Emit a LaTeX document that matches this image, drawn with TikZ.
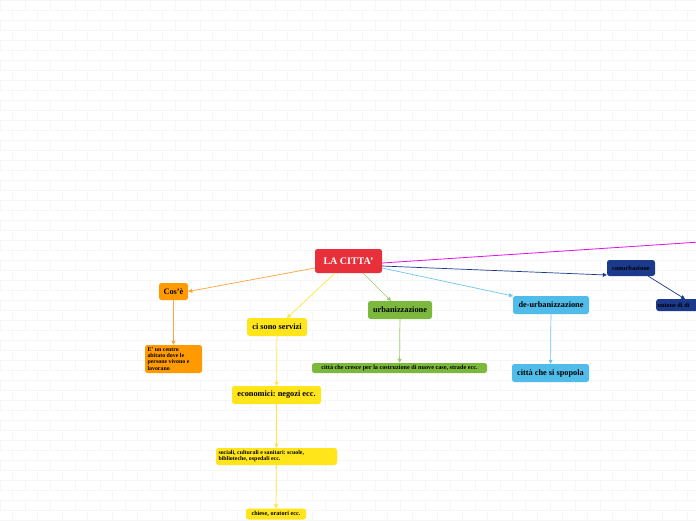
\documentclass[tikz,border=0pt]{standalone}
\usepackage{fontspec}
\setmainfont{Liberation Serif}
\usetikzlibrary{arrows.meta}
\frenchspacing
\definecolor{cred}{HTML}{E8303A}
\definecolor{corange}{HTML}{FF9A00}
\definecolor{corangeL}{HTML}{FFA43A}
\definecolor{cyellow}{HTML}{FFE51A}
\definecolor{cyellowL}{HTML}{FFE640}
\definecolor{cgreen}{HTML}{7CB83C}
\definecolor{cgreenL}{HTML}{9CCC6A}
\definecolor{cblue}{HTML}{4FBCEA}
\definecolor{cblueL}{HTML}{6CC6EE}
\definecolor{cnavy}{HTML}{1B3A8C}
\definecolor{cmag}{HTML}{E010E8}
\definecolor{brick}{HTML}{F6F6F6}
\tikzset{
  box/.style={rounded corners=2.5pt, inner sep=1pt, align=center, font=\bfseries\fontsize{8.3}{9}\selectfont, text=black},
  small/.style={font=\bfseries\fontsize{6.2}{6.4}\selectfont},
  conn/.style={line width=0.7pt, -{Triangle[length=4pt,width=4pt]}},
}
\begin{document}
\begin{tikzpicture}[x=1pt,y=-1pt]
\useasboundingbox (0,0) rectangle (696,520);
\fill[white] (0,0) rectangle (696,520);
% faint brick background
\foreach \r in {0,...,52} {
  \draw[brick, line width=0.6pt] (0,\r*10) -- (696,\r*10);
  \pgfmathsetmacro{\off}{mod(\r,2)*12.5}
  \foreach \c in {0,...,28} {
    \draw[brick, line width=0.6pt] (\c*25+\off,\r*10) -- (\c*25+\off,\r*10+10);
  }
}
% nodes
\node[box, fill=cred, text=white, minimum width=67pt, minimum height=24pt, font=\bfseries\fontsize{10}{11}\selectfont] (city) at (348.5,261) {LA CITTA'};
\node[box, fill=corange, minimum width=29pt, minimum height=17pt] (cos) at (173.5,291.5) {Cos'è};
\node[box, small, fill=corange, minimum width=57pt, minimum height=28pt, text width=52pt, align={flush left}, font=\bfseries\fontsize{5.9}{6.1}\selectfont] (eun) at (173.5,359) {E' un centro\\abitato dove le\\persone vivono e\\lavorano};
\node[box, fill=cyellow, minimum width=60pt, minimum height=18pt] (serv) at (277,327) {ci sono servizi};
\node[box, fill=cyellow, minimum width=89pt, minimum height=18pt] (econ) at (276.5,395) {economici: negozi ecc.};
\node[box, small, fill=cyellow, minimum width=121pt, minimum height=17pt, text width=116pt, align={flush left}, font=\bfseries\fontsize{5.9}{6.1}\selectfont] (soc) at (276.5,456.5) {sociali, culturali e sanitari: scuole,\\biblioteche, ospedali ecc.};
\node[box, small, fill=cyellow, minimum width=60pt, minimum height=11pt] (chiese) at (276,514) {chiese, oratori ecc.};
\node[box, fill=cgreen, minimum width=64pt, minimum height=18pt] (urb) at (400,310) {urbanizzazione};
\node[box, small, fill=cgreen, minimum width=175pt, minimum height=10pt] (cresce) at (399.5,368) {città che cresce per la costruzione di nuove case, strade ecc.};
\node[box, fill=cblue, minimum width=76pt, minimum height=18pt] (deurb) at (551,305) {de-urbanizzazione};
\node[box, fill=cblue, minimum width=77pt, minimum height=18pt] (spop) at (550.5,373) {città che si spopola};
\node[box, small, fill=cnavy, minimum width=48pt, minimum height=16pt, font=\bfseries\fontsize{6.5}{7}\selectfont] (conurb) at (631,268) {conurbazione};
\node[box, small, fill=cnavy, minimum height=12pt, minimum width=50pt, anchor=west, align={flush left}, text width=47pt, font=\bfseries\fontsize{6.3}{7}\selectfont] (unione) at (656,305) {unione di di};
\coordinate (magend) at (700,242);
% connectors
\draw[conn, corangeL] (city.west |- 0,268) -- (cos.east);
\draw[conn, corangeL] (cos) -- (eun);
\draw[conn, cyellowL] (335,273) -- (287,318);
\draw[conn, cyellowL] (serv) -- (econ);
\draw[conn, cyellowL] (econ) -- (soc);
\draw[conn, cyellowL] (soc) -- (chiese);
\draw[conn, cgreenL] (363,273) -- (391,301);
\draw[conn, cgreenL] (urb) -- (cresce);
\draw[conn, cblueL] (382,268) -- (513,296);
\draw[conn, cblueL] (deurb) -- (spop);
\draw[conn, cnavy] (382,266) -- (conurb.west |- 0,275);
\draw[conn, cnavy] (648,276) -- (685,299);
\draw[line width=0.8pt, cmag] (382,263) -- (magend);
\end{tikzpicture}
\end{document}
